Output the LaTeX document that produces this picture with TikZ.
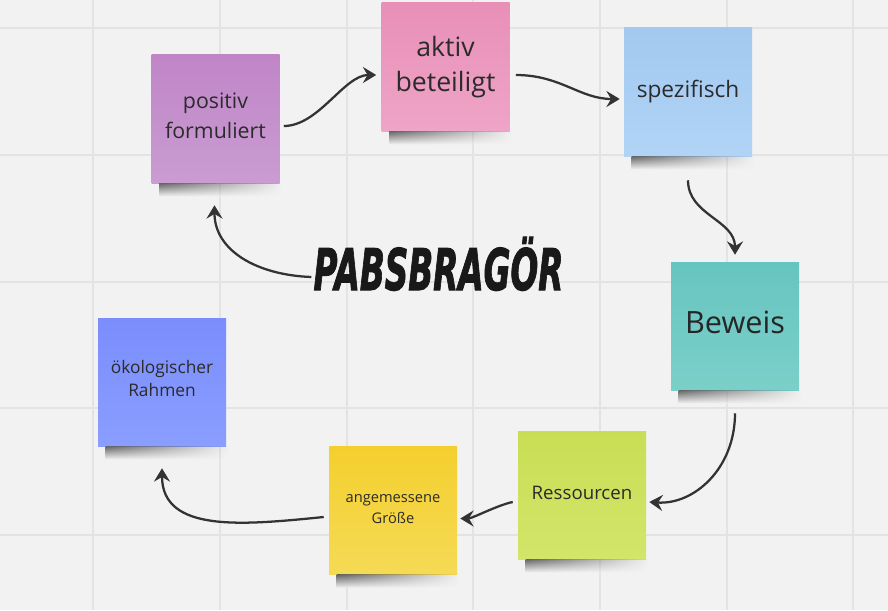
\documentclass[tikz,border=0pt]{standalone}
\usepackage{fontspec}
\setmainfont{Open Sans}
\newfontfamily\titlefont{DejaVu Sans}[BoldItalicFeatures={FakeBold=2}]
\usepackage{tikz}
\usetikzlibrary{arrows.meta,positioning,fadings}

\definecolor{board}{HTML}{F2F2F2}
\definecolor{gridline}{HTML}{E3E3E3}
\definecolor{ink}{HTML}{333333}
\definecolor{notetext}{HTML}{2B2B2B}
\definecolor{purpletop}{HTML}{C085C7}
\definecolor{purplebot}{HTML}{C99CD2}
\definecolor{pinktop}{HTML}{E98FB7}
\definecolor{pinkbot}{HTML}{EEA5C7}
\definecolor{skytop}{HTML}{A3C9F0}
\definecolor{skybot}{HTML}{B1D4F6}
\definecolor{tealtop}{HTML}{66C5C0}
\definecolor{tealbot}{HTML}{7BCFC9}
\definecolor{limetop}{HTML}{C9DE55}
\definecolor{limebot}{HTML}{D3E56A}
\definecolor{yellowtop}{HTML}{F4CF2E}
\definecolor{yellowbot}{HTML}{F5DA55}
\definecolor{bluetop}{HTML}{7A8DFC}
\definecolor{bluebot}{HTML}{8A9EFF}

\tikzfading[name=shadowfade, left color=transparent!0, middle color=transparent!0, right color=transparent!100]

\begin{document}
\begin{tikzpicture}[x=0.75pt,y=-0.75pt,
    note/.style={minimum width=96pt,minimum height=96pt,inner sep=0pt,align=center,text=notetext},
    notShadow/.style={top color=black!60,bottom color=board,path fading=shadowfade},
    link/.style={draw=ink,line width=1.7pt,-{Stealth[length=10pt,width=12pt,inset=3.5pt]}}]
	  % Board with grid
	  \useasboundingbox (0,0) rectangle (888,610);
	  \fill[board] (0,0) rectangle (888,610);
	  \foreach \x in {93,220,347,473,600,727,853}
	      \draw[gridline,line width=1.2pt] (\x,0) -- (\x,610);
	  \foreach \y in {28,155,282,408,535}
	      \draw[gridline,line width=1.2pt] (0,\y) -- (888,\y);
	  % Sticky notes
	  \node[note,top color=purpletop,bottom color=purplebot,font=\fontsize{16}{22}\selectfont,text depth=5pt] (pos) at (215.5,119) {positiv\\formuliert};
	  \node[note,top color=pinktop,bottom color=pinkbot,font=\fontsize{20}{26}\selectfont] (akt) at (445.5,67) {aktiv\\beteiligt};
	  \node[note,top color=skytop,bottom color=skybot,font=\fontsize{17}{22}\selectfont] (spez) at (688,92) {spezifisch};
	  \node[note,top color=tealtop,bottom color=tealbot,font=\fontsize{23}{28}\selectfont,text=black!85,text depth=6pt] (bew) at (735,326) {Beweis};
	  \node[note,top color=limetop,bottom color=limebot,font=\fontsize{14}{18}\selectfont,text depth=3pt] (res) at (582,495) {Ressourcen};
	  \node[note,top color=yellowtop,bottom color=yellowbot,font=\fontsize{11}{16}\selectfont,text depth=2pt] (ang) at (393,510.5) {angemessene\\Größe};
	  \node[note,top color=bluetop,bottom color=bluebot,font=\fontsize{13}{17}\selectfont,text depth=5pt] (oeko) at (162,382) {ökologischer\\Rahmen};
	  % Shadows under the notes
	  \foreach \n in {pos,akt,spez,bew,res,ang,oeko}
	      \shade[notShadow] ([shift={(8,0)}]\n.south west) rectangle ([shift={(2,13)}]\n.south east);
	  % Title
	  \node[inner sep=0pt,anchor=base,text=black!90] (title) at (438.5,290)
	      {\scalebox{0.57}[1]{\titlefont\fontsize{43}{43}\selectfont\bfseries\itshape PABSBRAGÖR}};
	  % Links between the notes
	  \draw[link] ([shift={(4,7)}]pos.east) .. controls +(35,0) and +(-32,0) .. ([shift={(-5,8)}]akt.west);
	  \draw[link] ([shift={(6,8)}]akt.east) .. controls +(45,0) and +(-40,0) .. ([shift={(-4,7)}]spez.west);
	  \draw[link] ([shift={(0,24)}]spez.south) .. controls +(0,35) and +(0,-35) .. ([shift={(0,-7)}]bew.north);
	  \draw[link] ([shift={(0,23)}]bew.south) .. controls +(0,55) and +(45,3) .. ([shift={(3,7)}]res.east);
	  \draw[link] ([shift={(-5,7)}]res.west) .. controls +(-15,3) and +(12,0) .. ([shift={(3,8)}]ang.east);
	  \draw[link] ([shift={(-5,6.5)}]ang.west) .. controls +(-80,8) and +(0,65) .. ([shift={(0,22)}]oeko.south);
	  \draw[link] ([shift={(-2,-13)}]title.base west) .. controls +(-55,-2) and +(0,45) .. ([shift={(-1,22)}]pos.south);
\end{tikzpicture}
\end{document}
